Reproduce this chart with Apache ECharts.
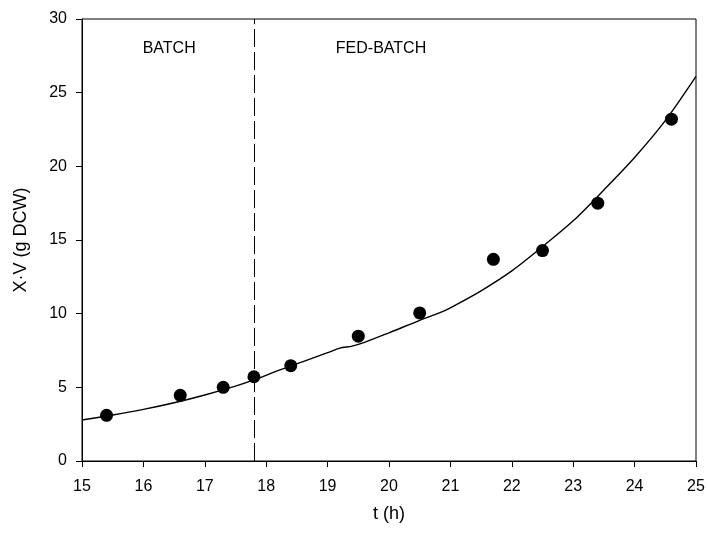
<!DOCTYPE html>
<html>
<head>
<meta charset="utf-8">
<script src="https://cdn.jsdelivr.net/npm/echarts@6/dist/echarts.min.js"></script>
<style>html,body{margin:0;padding:0;background:#fff}#c{width:708px;height:536px}</style>
</head>
<body>
<div id="c"></div>
<script>
// Measured data points
const pointT = [15.4, 16.6, 17.3, 17.8, 18.4, 19.5, 20.5, 21.7, 22.5, 23.4, 24.6];
const pointXV = [3.1, 4.46, 5.0, 5.72, 6.47, 8.47, 10.05, 13.69, 14.28, 17.5, 23.2];
// Model curve
const curveT = [15, 15.5, 16, 16.5, 17, 17.5, 17.8, 18.2, 18.6, 19.0, 19.2, 19.4, 19.6, 20.0, 20.5, 20.83, 21, 21.5, 22, 22.5, 23, 23.5, 24, 24.5, 25];
const curveXV = [2.78, 3.12, 3.5, 3.95, 4.48, 5.08, 5.5, 6.15, 6.75, 7.35, 7.66, 7.8, 8.05, 8.7, 9.55, 10.07, 10.4, 11.55, 12.9, 14.55, 16.3, 18.4, 20.6, 23.1, 26.1];
// Phase boundary
const feedStart = 17.8;
const phaseLabels = ['BATCH', 'FED-BATCH'];
const phaseLabelT = [16.42, 19.87];
const phaseLabelY = 28.0;
const xTicks = {min: 15, max: 25, interval: 1};
const yTicks = {min: 0, max: 30, interval: 5};

const chart = echarts.init(document.getElementById('c'), null, {renderer: 'canvas'});
const font = 'Liberation Sans, Arial, sans-serif';
chart.setOption({
  animation: false,
  backgroundColor: '#fff',
  grid: {left: 82, right: 12, top: 19, bottom: 75, show: true, borderColor: '#000', borderWidth: 1, backgroundColor: 'transparent'},
  xAxis: {
    type: 'value', min: xTicks.min, max: xTicks.max, interval: xTicks.interval,
    name: 't (h)', nameLocation: 'middle', nameGap: 44,
    nameTextStyle: {color: '#000', fontSize: 18, fontFamily: font},
    axisLine: {show: true, lineStyle: {color: '#000', width: 1}},
    axisTick: {show: true, inside: false, length: 6, lineStyle: {color: '#000'}},
    axisLabel: {color: '#000', fontSize: 16, fontFamily: font, margin: 18},
    splitLine: {show: false}
  },
  yAxis: {
    type: 'value', min: yTicks.min, max: yTicks.max, interval: yTicks.interval,
    name: 'X·V (g DCW)', nameLocation: 'middle', nameGap: 52,
    nameTextStyle: {color: '#000', fontSize: 18, fontFamily: font},
    axisLine: {show: true, lineStyle: {color: '#000', width: 1}},
    axisTick: {show: true, inside: false, length: 6, lineStyle: {color: '#000'}},
    axisLabel: {color: '#000', fontSize: 16, fontFamily: font, margin: 15},
    splitLine: {show: false}
  },
  series: [
    {
      type: 'line', data: curveT.map((t, i) => [t, curveXV[i]]),
      smooth: 0.3, showSymbol: false, symbol: 'none',
      lineStyle: {color: '#000', width: 1.4}, z: 2,
      markLine: {
        silent: true, symbol: 'none', label: {show: false},
        lineStyle: {color: '#000', type: [18, 5], width: 1},
        data: [{xAxis: feedStart}]
      }
    },
    {
      type: 'scatter', data: pointT.map((t, i) => [t, pointXV[i]]),
      symbol: 'circle', symbolSize: 13, itemStyle: {color: '#000', opacity: 1}, z: 3
    },
    {
      type: 'scatter', symbolSize: 0, itemStyle: {opacity: 1},
      data: phaseLabelT.map((t, i) => ({value: [t, phaseLabelY], name: phaseLabels[i]})),
      label: {show: true, position: 'inside', formatter: p => p.name, color: '#000', fontSize: 16, fontFamily: font},
      silent: true
    }
  ]
});
</script>
</body>
</html>
